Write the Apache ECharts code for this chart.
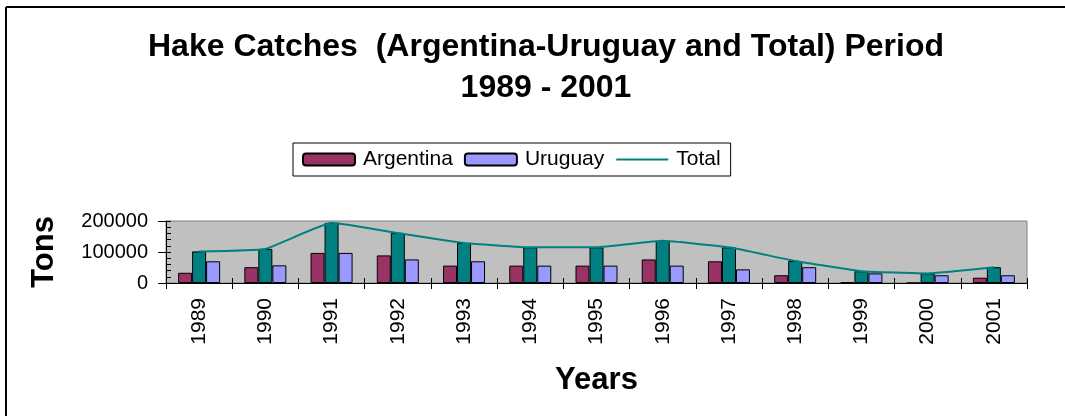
<!DOCTYPE html>
<html>
<head>
<meta charset="utf-8">
<script src="https://cdn.jsdelivr.net/npm/echarts@6/dist/echarts.min.js"></script>
<style>
  html, body { margin: 0; padding: 0; background: #fff; }
  #chart { width: 1065px; height: 416px; }
</style>
</head>
<body>
<div id="chart"></div>
<script>
// data
const years = ["1989", "1990", "1991", "1992", "1993", "1994", "1995", "1996", "1997", "1998", "1999", "2000", "2001"];
const argentina = [33000, 51000, 97000, 89000, 56000, 56000, 56000, 76000, 70000, 25000, 2000, 0, 17000];
const uruguay = [70000, 57000, 97000, 76000, 70000, 56000, 56000, 56000, 44000, 51000, 31000, 25000, 25000];
const total = [102000, 110000, 194000, 161000, 129000, 115000, 115000, 136000, 115000, 71000, 38000, 31000, 51000];
const yTicks = [0, 100000, 200000];

const font = "Liberation Sans, Arial, sans-serif";
const chart = echarts.init(document.getElementById("chart"));

// bar style shared by the three bar series
const barStyle = (color) => ({ color: color, borderColor: "#000", borderWidth: 1 });

const option = {
  animation: false,
  textStyle: { fontFamily: font },
  title: {
    text: "Hake Catches  (Argentina-Uruguay and Total) Period\n1989 - 2001",
    left: 541,
    textAlign: "center",
    top: 22,
    textStyle: { fontSize: 32, fontWeight: "bold", color: "#000", lineHeight: 41, fontFamily: font },
  },
  legend: {
    data: [
      { name: "Argentina" },
      { name: "Uruguay" },
      { name: "Total", itemStyle: { opacity: 0 }, lineStyle: { opacity: 1 } },
    ],
    left: 293,
    top: 143,
    padding: [6, 10, 6, 9],
    itemGap: 11,
    itemWidth: 52,
    itemHeight: 12,
    borderColor: "#000",
    borderWidth: 1,
    textStyle: { fontSize: 21, color: "#000", padding: [0, 0, 0, 3], fontFamily: font },
  },
  grid: {
    left: 166,
    right: 38,
    top: 221,
    bottom: 133,
    show: true,
    backgroundColor: "#C0C0C0",
    borderColor: "#808080",
    borderWidth: 1,
  },
  xAxis: [
    {
      type: "category",
      data: years,
      axisLine: { lineStyle: { color: "#000", width: 1 } },
      axisTick: { show: true, length: 6, lineStyle: { color: "#000" } },
      axisLabel: { rotate: 90, fontSize: 21, color: "#000", margin: 15 },
      name: "Years",
      nameLocation: "middle",
      nameGap: 82,
      nameTextStyle: { fontSize: 31, fontWeight: "bold", color: "#000" },
    },
    {
      // inner half of the crossing ticks
      type: "category",
      data: years,
      position: "bottom",
      axisLine: { show: false },
      axisTick: { show: true, inside: true, length: 5, lineStyle: { color: "#000" } },
      axisLabel: { show: false },
    },
  ],
  yAxis: [
    {
      type: "value",
      min: yTicks[0],
      max: yTicks[yTicks.length - 1],
      interval: yTicks[1] - yTicks[0],
      position: "left",
      splitLine: { show: false },
      axisLine: { show: true, lineStyle: { color: "#000", width: 1 } },
      axisTick: { show: true, length: 8, lineStyle: { color: "#000" } },
      axisLabel: { fontSize: 20, color: "#000", margin: 18, formatter: (v) => String(v) },
      name: "Tons",
      nameLocation: "middle",
      nameGap: 106,
      nameTextStyle: { fontSize: 31, fontWeight: "bold", color: "#000" },
    },
    {
      // inside ticks and minor ticks
      type: "value",
      min: yTicks[0],
      max: yTicks[yTicks.length - 1],
      interval: yTicks[1] - yTicks[0],
      position: "left",
      splitLine: { show: false },
      axisLine: { show: false },
      axisTick: { show: true, inside: true, length: 5, lineStyle: { color: "#000" } },
      minorTick: { show: true, splitNumber: 5, length: 5, lineStyle: { color: "#000" } },
      axisLabel: { show: false },
    },
  ],
  series: [
    {
      name: "Argentina",
      type: "bar",
      data: argentina,
      barWidth: 14,
      barGap: "0%",
      itemStyle: barStyle("#993366"),
    },
    {
      name: "Total bars",
      type: "bar",
      data: total,
      barWidth: 14,
      barGap: "0%",
      itemStyle: barStyle("#008080"),
    },
    {
      name: "Uruguay",
      type: "bar",
      data: uruguay,
      barWidth: 14,
      barGap: "0%",
      itemStyle: barStyle("#9999FF"),
    },
    {
      name: "Total",
      type: "line",
      data: total,
      symbol: "none",
      smooth: 0.1,
      lineStyle: { color: "#008080", width: 2 },
      itemStyle: { color: "#008080" },
      z: 5,
    },
  ],
  graphic: [
    { type: "line", shape: { x1: 6, y1: 7, x2: 1065, y2: 7 }, style: { stroke: "#000", lineWidth: 2 } },
    { type: "line", shape: { x1: 6, y1: 7, x2: 6, y2: 416 }, style: { stroke: "#000", lineWidth: 2 } },
  ],
};

chart.setOption(option);
</script>
</body>
</html>
